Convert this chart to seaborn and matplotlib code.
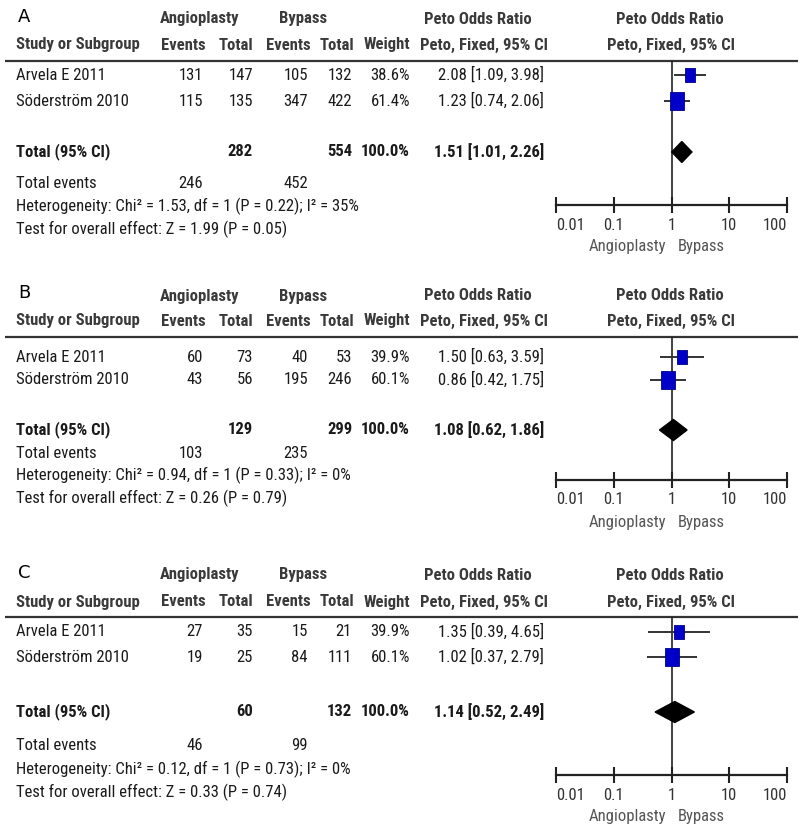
import numpy as np
import pandas as pd
import matplotlib
matplotlib.use("Agg")
import matplotlib.pyplot as plt
from matplotlib import font_manager
from matplotlib.path import Path
from matplotlib.ticker import NullLocator, FixedLocator, FixedFormatter
import seaborn as sns

# ---------------- data ----------------
panel_labels = ["A", "B", "C"]
studies = ["Arvela E 2011", "Söderström 2010"]
angio_events = [[131, 115], [60, 43], [27, 19]]
angio_total = [[147, 135], [73, 56], [35, 25]]
bypass_events = [[105, 347], [40, 195], [15, 84]]
bypass_total = [[132, 422], [53, 246], [21, 111]]
weights = [[38.6, 61.4], [39.9, 60.1], [39.9, 60.1]]
or_est = [[2.08, 1.23], [1.50, 0.86], [1.35, 1.02]]
ci_lo = [[1.09, 0.74], [0.63, 0.42], [0.39, 0.37]]
ci_hi = [[3.98, 2.06], [3.59, 1.75], [4.65, 2.79]]
tot_angio = [282, 129, 60]
tot_bypass = [554, 299, 132]
tot_or = [1.51, 1.08, 1.14]
tot_lo = [1.01, 0.62, 0.52]
tot_hi = [2.26, 1.86, 2.49]
events_angio = [246, 103, 46]
events_bypass = [452, 235, 99]
chi2 = ["1.53", "0.94", "0.12"]
p_het = ["0.22", "0.33", "0.73"]
i2 = ["35", "0", "0"]
z_val = ["1.99", "0.26", "0.33"]
p_z = ["0.05", "0.79", "0.74"]
tick_vals = [0.01, 0.1, 1, 10, 100]
tick_labels = ["0.01", "0.1", "1", "10", "100"]

# ---------------- style ----------------
sns.set_style("white")
names = {f.name for f in font_manager.fontManager.ttflist}
family = "DejaVu Sans"
for cand in ["Liberation Sans Narrow", "Roboto Condensed", "Liberation Sans", "Arimo"]:
    if cand in names:
        family = cand
        break
plt.rcParams["font.family"] = [family, "DejaVu Sans"]

W, H = 800, 835
fig = plt.figure(figsize=(W / 100, H / 100), dpi=100)
bg = fig.add_axes([0, 0, 1, 1])
bg.set_xlim(0, W)
bg.set_ylim(H, 0)
bg.axis("off")

FS = 12
HDR = "#3a3a3a"
TXT = "#1a1a1a"

# layout (pixel rows) per panel
layout = [
    dict(letter=17, h1=19, h2=45, line=61, r1=75, r2=101, tot=152, tev=183, het=206, test=229, axis=205),
    dict(letter=293, h1=296, h2=321, line=337, r1=357, r2=380, tot=430, tev=453, het=475, test=498, axis=480),
    dict(letter=573, h1=575, h2=602, line=617, r1=632, r2=657, tot=712, tev=746, het=769, test=792, axis=775),
]

x_ae, x_at, x_be, x_bt, x_w, x_ci = 203, 253, 308, 352, 410, 544
fx0, fx1 = 556, 787

rect = Path([(-0.5, -0.68), (0.5, -0.68), (0.5, 0.68), (-0.5, 0.68), (-0.5, -0.68)],
            [Path.MOVETO, Path.LINETO, Path.LINETO, Path.LINETO, Path.CLOSEPOLY])

for p in range(3):
    L = layout[p]
    def t(x, y, s, ha="left", bold=False, color=TXT, size=FS):
        bg.text(x, y, s, ha=ha, va="center", fontsize=size,
                fontweight="bold" if bold else "normal", color=color)

    bg.text(18, L["letter"], panel_labels[p], ha="left", va="center", fontsize=13,
            color="black", family=["DejaVu Sans"])
    # headers
    t(200, L["h1"], "Angioplasty", ha="center", bold=True, color=HDR)
    t(303, L["h1"], "Bypass", ha="center", bold=True, color=HDR)
    t(478, L["h1"], "Peto Odds Ratio", ha="center", bold=True, color=HDR)
    t(670, L["h1"], "Peto Odds Ratio", ha="center", bold=True, color=HDR)
    t(16, L["h2"], "Study or Subgroup", bold=True, color=HDR)
    t(183, L["h2"], "Events", ha="center", bold=True, color=HDR)
    t(236, L["h2"], "Total", ha="center", bold=True, color=HDR)
    t(288, L["h2"], "Events", ha="center", bold=True, color=HDR)
    t(337, L["h2"], "Total", ha="center", bold=True, color=HDR)
    t(387, L["h2"], "Weight", ha="center", bold=True, color=HDR)
    t(484, L["h2"], "Peto, Fixed, 95% CI", ha="center", bold=True, color=HDR)
    t(671, L["h2"], "Peto, Fixed, 95% CI", ha="center", bold=True, color=HDR)
    bg.plot([5, 798], [L["line"], L["line"]], color="#333333", lw=1.6, solid_capstyle="butt")

    for i, ykey in enumerate(["r1", "r2"]):
        y = L[ykey]
        t(16, y, studies[i])
        t(x_ae, y, f"{angio_events[p][i]}", ha="right")
        t(x_at, y, f"{angio_total[p][i]}", ha="right")
        t(x_be, y, f"{bypass_events[p][i]}", ha="right")
        t(x_bt, y, f"{bypass_total[p][i]}", ha="right")
        t(x_w, y, f"{weights[p][i]:.1f}%", ha="right")
        t(x_ci, y, f"{or_est[p][i]:.2f} [{ci_lo[p][i]:.2f}, {ci_hi[p][i]:.2f}]", ha="right")

    y = L["tot"]
    t(16, y, "Total (95% CI)", bold=True)
    t(x_at, y, f"{tot_angio[p]}", ha="right", bold=True)
    t(x_bt, y, f"{tot_bypass[p]}", ha="right", bold=True)
    t(x_w, y, "100.0%", ha="right", bold=True)
    t(x_ci, y, f"{tot_or[p]:.2f} [{tot_lo[p]:.2f}, {tot_hi[p]:.2f}]", ha="right", bold=True)

    y = L["tev"]
    t(16, y, "Total events")
    t(x_ae, y, f"{events_angio[p]}", ha="right")
    t(x_be, y, f"{events_bypass[p]}", ha="right")
    t(16, L["het"], f"Heterogeneity: Chi\u00b2 = {chi2[p]}, df = 1 (P = {p_het[p]}); I\u00b2 = {i2[p]}%")
    t(16, L["test"], f"Test for overall effect: Z = {z_val[p]} (P = {p_z[p]})")

    # forest axes
    ax = fig.add_axes([fx0 / W, 1 - L["axis"] / H, (fx1 - fx0) / W, (L["axis"] - L["line"]) / H])
    ax.set_xscale("log")
    ax.set_xlim(0.01, 100)
    ax.set_ylim(L["axis"], L["line"])
    ax.patch.set_alpha(0)
    for s in ["top", "left", "right"]:
        ax.spines[s].set_visible(False)
    ax.spines["bottom"].set_linewidth(1.6)
    ax.spines["bottom"].set_color("#222222")
    ax.axvline(1, color="#222222", lw=1.2, zorder=1)

    df = pd.DataFrame({"or": or_est[p], "lo": ci_lo[p], "hi": ci_hi[p],
                       "w": weights[p], "y": [L["r1"], L["r2"]]})
    ax.hlines(df["y"], df["lo"], df["hi"], color="#333333", lw=1.4, zorder=2)
    sns.scatterplot(data=df, x="or", y="y", size="w", size_norm=(30, 65), sizes=(60, 200),
                    marker=rect, color="#0000c8", edgecolor="#00008b", linewidth=0.6,
                    legend=False, ax=ax, zorder=3)
    dy = 10.5
    ax.fill([tot_lo[p], tot_or[p], tot_hi[p], tot_or[p]],
            [L["tot"], L["tot"] - dy, L["tot"], L["tot"] + dy], color="black", zorder=3)

    ax.xaxis.set_major_locator(FixedLocator(tick_vals))
    ax.xaxis.set_major_formatter(FixedFormatter(tick_labels))
    ax.xaxis.set_minor_locator(NullLocator())
    ax.tick_params(axis="x", direction="inout", length=12, width=1.5, color="#222222",
                   labelsize=FS, labelcolor="#333333", pad=3, bottom=True)
    ax.set_yticks([])
    ax.set_xlabel("")
    ax.set_ylabel("")
    labs = ax.get_xticklabels()
    labs[0].set_ha("left")
    labs[-1].set_ha("right")

    t(666, L["axis"] + 42, "Angioplasty", ha="right", color="#555555")
    t(678, L["axis"] + 42, "Bypass", ha="left", color="#555555")

fig.savefig("out.png", dpi=100)
